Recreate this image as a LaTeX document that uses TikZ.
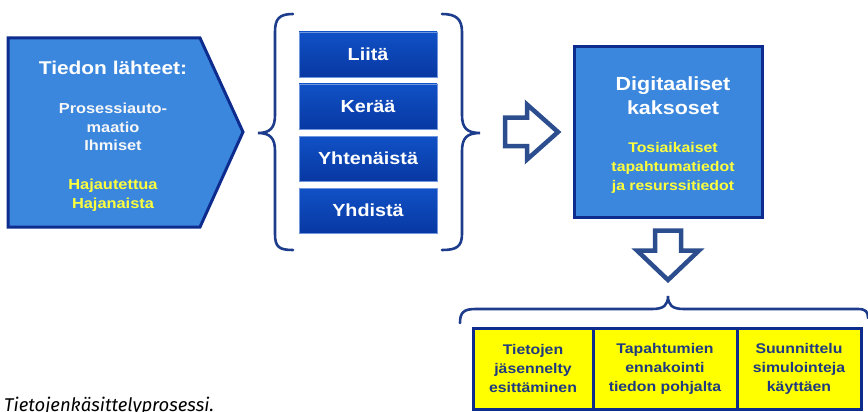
\documentclass[tikz,border=0pt]{standalone}
\usepackage{fontspec}
\setmainfont{Liberation Sans}[FakeStretch=1.13]
\newfontfamily\capfont{Fira Sans}
\usepackage{tikz}
\usetikzlibrary{arrows.meta,calc}

\definecolor{srcblue}{HTML}{3B87DE}
\definecolor{edgeblue}{HTML}{0E2C8E}
\definecolor{boxtop}{HTML}{1051C6}
\definecolor{boxbot}{HTML}{0838A2}
\definecolor{arrblue}{HTML}{2C4E8E}
\definecolor{bracecol}{HTML}{1E3C8C}
\definecolor{hiyellow}{HTML}{FFFF3C}
\definecolor{resyellow}{HTML}{FFFF00}
\definecolor{restext}{HTML}{1F3A80}

\begin{document}
\begin{tikzpicture}[x=1pt,y=-1pt,
    stepbox/.style={draw=boxtop!60!white,line width=0.6pt,top color=boxtop,bottom color=boxbot,
      minimum width=138pt,minimum height=45pt,text=white,font=\bfseries\fontsize{17.5}{20}\selectfont},
    resbox/.style={draw=edgeblue,line width=3pt,fill=resyellow,inner sep=0pt},
    restxt/.style={text=restext,align=center,font=\bfseries\fontsize{14}{19}\selectfont},
    hollow/.style={draw=arrblue,line width=4.5pt,fill=white,line join=miter},
    curly/.style={draw=bracecol,line width=2.6pt,line cap=round}]
  \useasboundingbox (0,0) rectangle (868,412);

  % tiedon lahteet
  \draw[draw=edgeblue,line width=3pt,fill=srcblue] (8,38) -- (200,38) -- (243,132) -- (200,227) -- (8,227) -- cycle;
  \node[text=white,font=\bfseries\fontsize{18.5}{22}\selectfont] (src) at (113,68) {Tiedon lähteet:};
  \node[text=white!94!gray,align=center,font=\bfseries\fontsize{14.5}{18.5}\selectfont] (srcl) at (113,127) {Prosessiauto-\\maatio\\Ihmiset};
  \node[text=hiyellow,align=center,font=\bfseries\fontsize{14.5}{18.5}\selectfont] (srcy) at (113,195) {Hajautettua\\Hajanaista};

  % vaiheet
  \node[stepbox] (liita) at (368,54.5) {Liitä};
  \node[stepbox] (keraa) at (368,106.5) {Kerää};
  \node[stepbox] (yhten) at (368,158.5) {Yhtenäistä};
  \node[stepbox] (yhdista) at (368,210.5) {Yhdistä};
  \draw[curly] (293,14) .. controls (279,14) and (275,19) .. (275,32) -- (275,115)
    .. controls (275,128) and (270,133) .. (258,133)
    .. controls (270,133) and (275,138) .. (275,151) -- (275,234)
    .. controls (275,247) and (279,250) .. (293,250);
  \draw[curly] (442,14) .. controls (456,14) and (462,19) .. (462,32) -- (462,115)
    .. controls (462,128) and (467,133) .. (480,133)
    .. controls (467,133) and (462,138) .. (462,151) -- (462,234)
    .. controls (462,247) and (456,250) .. (442,250);

  \draw[hollow] (505,117.5) -- (527,117.5) -- (527,104.5) -- (558,132) -- (527,159.5) -- (527,146) -- (505,146) -- cycle;

  % digitaaliset kaksoset
  \node[draw=edgeblue,line width=3pt,fill=srcblue,minimum width=188pt,minimum height=170pt] (twin) at (668,132) {};
  \node[text=white,align=center,font=\bfseries\fontsize{19}{24}\selectfont] (twint) at (673,96) {Digitaaliset\\kaksoset};
  \node[text=hiyellow,align=center,font=\bfseries\fontsize{14}{19}\selectfont] (twiny) at (673,168) {Tosiaikaiset\\tapahtumatiedot\\ja resurssitiedot};

  \draw[hollow] (655,230.5) -- (681,230.5) -- (681,250.5) -- (699,250.5) -- (668,280) -- (637,250.5) -- (655,250.5) -- cycle;

  \draw[curly] (460,323) .. controls (460,312) and (464,309) .. (476,309) -- (652,309)
    .. controls (664,309) and (668,305) .. (668,296)
    .. controls (668,305) and (672,309) .. (684,309) -- (858,309)
    .. controls (866,309) and (868,312) .. (868,318);

  % tulokset
  \node[resbox,minimum width=120pt,minimum height=81pt] (res1) at (533,368.5) {};
  \node[resbox,minimum width=144pt,minimum height=81pt] (res2) at (665,368.5) {};
  \node[resbox,minimum width=124pt,minimum height=81pt] (res3) at (799,368.5) {};
  \node[restxt] at (res1) {Tietojen\\jäsennelty\\esittäminen};
  \node[restxt] at (res2) {Tapahtumien\\ennakointi\\tiedon pohjalta};
  \node[restxt] at (res3) {Suunnittelu\\simulointeja\\käyttäen};

  \node[anchor=base west,inner sep=0pt,font=\capfont\itshape\fontsize{18.5}{20}\selectfont,text=black] (cap) at (4,411) {Tietojenkäsittelyprosessi.};
\end{tikzpicture}
\end{document}
